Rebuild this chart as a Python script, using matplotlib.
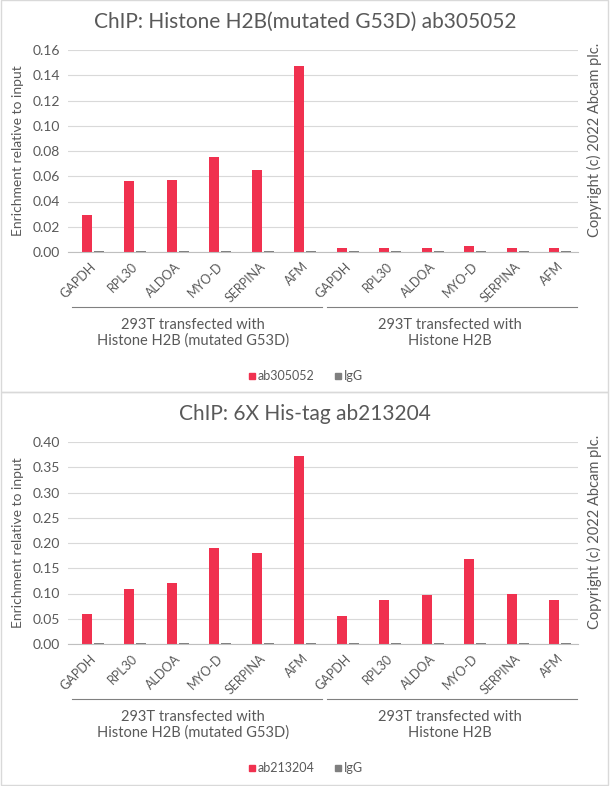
import matplotlib
matplotlib.use("Agg")
import matplotlib.pyplot as plt
from matplotlib.patches import Rectangle
import numpy as np

genes = ["GAPDH", "RPL30", "ALDOA", "MYO-D", "SERPINA", "AFM"] * 2
groups = ["293T transfected with\nHistone H2B (mutated G53D)", "293T transfected with\nHistone H2B"]
top_ab = [0.029, 0.056, 0.057, 0.075, 0.065, 0.147, 0.003, 0.003, 0.003, 0.005, 0.003, 0.003]
top_igg = [0.001] * 12
bot_ab = [0.060, 0.108, 0.120, 0.190, 0.180, 0.372, 0.055, 0.087, 0.097, 0.168, 0.100, 0.088]
bot_igg = [0.002] * 12

W, H = 610, 786
fig = plt.figure(figsize=(W/100, H/100), dpi=100)
plt.rcParams["font.family"] = "Lato"
RED, GRAY, TXT = "#F0314F", "#7F7F7F", "#595959"

def panel(y0, y1, title, ab, igg, abname, ymax, step, fmt):
    # y0,y1 pixel top/bottom of panel
    fig.patches.append(Rectangle((1/W, 1 - y1/H), 607/W, (y1 - y0)/H, transform=fig.transFigure,
                                 fill=False, ec="#D9D9D9", lw=1))
    ax_top, ax_bot = y0 + 50, y0 + 252
    ax = fig.add_axes([68/W, 1 - ax_bot/H, 510/W, (ax_bot - ax_top)/H])
    x = np.arange(12)
    ax.bar(x - 0.06, ab, width=0.24, color=RED)
    ax.bar(x + 0.22, igg, width=0.24, color=GRAY)
    ax.set_xlim(-0.5, 11.5)
    ax.set_ylim(0, ymax)
    ax.set_yticks(np.arange(0, ymax + 1e-9, step))
    ax.set_yticklabels([fmt % v for v in np.arange(0, ymax + 1e-9, step)], fontsize=10, color=TXT)
    ax.set_xticks(x)
    ax.set_xticklabels(genes, rotation=45, ha="right", rotation_mode="anchor", fontsize=9, color=TXT)
    ax.tick_params(length=0, pad=6)
    ax.grid(axis="y", color="#D9D9D9", lw=0.8)
    ax.set_axisbelow(True)
    for s in ["top", "right", "left"]:
        ax.spines[s].set_visible(False)
    ax.spines["bottom"].set_color("#BFBFBF")
    ax.set_ylabel("Enrichment relative to input", fontsize=10, color=TXT, labelpad=6)
    fig.text(305/W, 1 - (y0 + 22)/H, title, ha="center", va="center", fontsize=15, color=TXT)
    fig.text(594/W, 1 - (y0 + 140)/H, "Copyright (c) 2022 Abcam plc.", rotation=90,
             ha="center", va="center", fontsize=10.5, color=TXT)
    ly = 1 - (y0 + 307)/H
    fig.add_artist(plt.Line2D([72/W, 322/W], [ly, ly], color="#808080", lw=0.8))
    fig.add_artist(plt.Line2D([327/W, 577/W], [ly, ly], color="#808080", lw=0.8))
    fig.text(193/W, 1 - (y0 + 333)/H, groups[0], ha="center", va="center", fontsize=10.5, color=TXT, linespacing=1.1)
    fig.text(450/W, 1 - (y0 + 333)/H, groups[1], ha="center", va="center", fontsize=10.5, color=TXT, linespacing=1.1)
    lyy = 1 - (y0 + 376)/H
    fig.patches.append(Rectangle((249/W, lyy - 3/H), 6/W, 6/H, transform=fig.transFigure, color=RED))
    fig.text(258/W, lyy, abname, va="center", fontsize=9, color=TXT)
    fig.patches.append(Rectangle((335/W, lyy - 3/H), 6/W, 6/H, transform=fig.transFigure, color=GRAY))
    fig.text(344/W, lyy, "IgG", va="center", fontsize=9, color=TXT)

panel(0, 392, "ChIP: Histone H2B(mutated G53D) ab305052", top_ab, top_igg, "ab305052", 0.16, 0.02, "%.2f")
panel(392, 785, "ChIP: 6X His-tag ab213204", bot_ab, bot_igg, "ab213204", 0.40, 0.05, "%.2f")
fig.savefig("out.png", dpi=100, facecolor="white")
